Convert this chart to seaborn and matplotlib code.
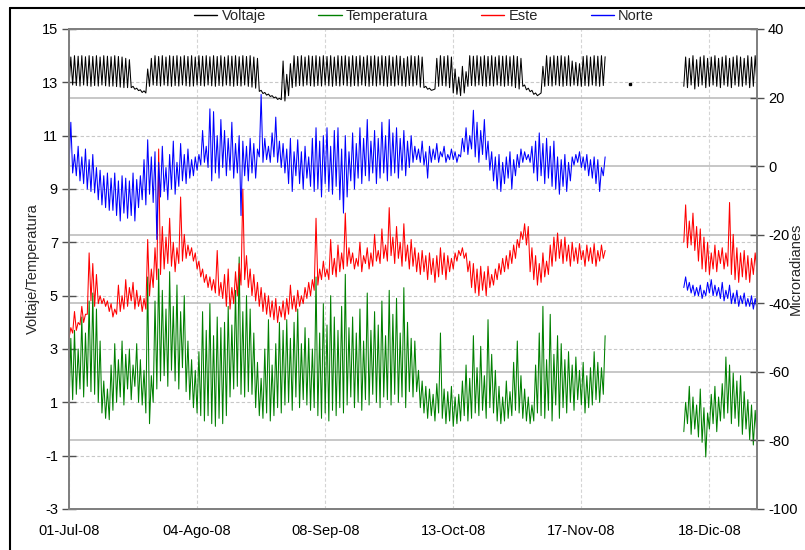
import numpy as np
import pandas as pd
import matplotlib
matplotlib.use("Agg")
import matplotlib.pyplot as plt
import matplotlib.transforms as mtransforms
from matplotlib.lines import Line2D
import seaborn as sns

# ---------------- data ----------------
tick_labels = ["01-Jul-08", "04-Ago-08", "08-Sep-08", "13-Oct-08", "17-Nov-08", "18-Dic-08"]
tick_pos = [0, 35, 70, 105, 140, 175]

days_1 = np.arange(0, 147)      # first recording period (day index)
days_2 = np.arange(168, 189)    # second recording period

volt_hi_1 = [13.95, 14.0, 13.98, 14.0, 13.96, 14.0, 13.97, 14.0, 13.95, 14.0,
             13.98, 13.96, 14.0, 13.97, 13.95, 13.9, 13.85, 12.85, 12.78, 12.72,
             12.68, 13.5, 13.9, 14.0, 13.97, 14.0, 13.95, 14.0, 13.98, 14.0,
             13.96, 14.0, 13.97, 14.0, 13.95, 14.0, 13.98, 14.0, 13.96, 14.0,
             13.97, 14.0, 13.95, 14.0, 13.98, 14.0, 13.96, 14.0, 13.97, 14.0,
             13.95, 13.9, 12.7, 12.62, 12.56, 12.5, 12.45, 12.4, 13.8, 13.3,
             13.7, 14.0, 13.97, 14.0, 13.95, 14.0, 13.98, 14.0, 13.96, 14.0,
             13.97, 14.0, 13.95, 14.0, 13.98, 14.0, 13.96, 14.0, 13.97, 14.0,
             13.95, 14.0, 13.98, 14.0, 13.96, 14.0, 13.97, 14.0, 13.95, 14.0,
             13.98, 13.9, 13.96, 14.0, 13.97, 14.0, 13.95, 12.85, 12.78, 12.72,
             13.9, 14.0, 13.97, 14.0, 13.95, 13.5, 13.2, 13.6, 13.4, 14.0,
             13.98, 14.0, 13.96, 14.0, 13.97, 14.0, 13.95, 14.0, 13.98, 14.0,
             13.96, 14.0, 13.97, 13.9, 12.9, 12.78, 12.7, 12.6, 12.55, 13.6,
             14.0, 13.95, 14.0, 13.98, 14.0, 13.96, 14.0, 13.8, 13.75, 13.7,
             13.97, 14.0, 13.95, 14.0, 13.98, 14.0, 13.96]
volt_lo_1 = [12.85, 12.9, 12.88, 12.86, 12.9, 12.87, 12.85, 12.88, 12.86, 12.9,
             12.87, 12.85, 12.86, 12.84, 12.82, 12.8, 12.8, 12.8, 12.74, 12.69,
             12.62, 12.6, 12.85, 12.9, 12.88, 12.86, 12.9, 12.87, 12.85, 12.88,
             12.86, 12.9, 12.87, 12.85, 12.86, 12.9, 12.88, 12.86, 12.9, 12.87,
             12.85, 12.88, 12.86, 12.9, 12.87, 12.85, 12.88, 12.86, 12.9, 12.85,
             12.82, 12.78, 12.66, 12.58, 12.52, 12.47, 12.42, 12.36, 12.35, 12.3,
             12.5, 12.8, 12.85, 12.88, 12.86, 12.9, 12.87, 12.85, 12.88, 12.86,
             12.9, 12.87, 12.85, 12.88, 12.86, 12.9, 12.87, 12.85, 12.88, 12.86,
             12.9, 12.87, 12.85, 12.88, 12.86, 12.9, 12.87, 12.85, 12.88, 12.86,
             12.9, 12.87, 12.85, 12.88, 12.86, 12.9, 12.82, 12.8, 12.74, 12.7,
             12.75, 12.85, 12.88, 12.86, 12.8, 12.6, 12.55, 12.5, 12.6, 12.85,
             12.88, 12.86, 12.9, 12.87, 12.85, 12.88, 12.86, 12.9, 12.87, 12.85,
             12.88, 12.86, 12.8, 12.75, 12.85, 12.72, 12.65, 12.55, 12.5, 12.6,
             12.85, 12.88, 12.86, 12.9, 12.87, 12.85, 12.88, 12.86, 12.9, 12.87,
             12.85, 12.88, 12.86, 12.9, 12.87, 12.85, 12.88]
volt_hi_2 = [13.95, 13.9, 14.0, 13.85, 13.95, 14.0, 13.9, 13.95, 14.0, 13.9, 13.95,
             14.0, 13.9, 13.95, 14.0, 13.95, 13.9, 14.0, 13.95, 14.0, 13.95]
volt_lo_2 = [12.85, 12.8, 12.9, 12.75, 12.85, 12.9, 12.8, 12.85, 12.9, 12.85, 12.8,
             12.9, 12.85, 12.8, 12.9, 12.85, 12.85, 12.9, 12.8, 12.85, 12.9]
volt_dot_day = [153]
volt_dot_val = [12.95]

temp_hi_1 = [3.4, 3.7, 3.0, 4.2, 3.6, 4.8, 5.1, 4.5, 3.3, 1.8,
             1.5, 2.4, 3.2, 2.6, 3.3, 2.8, 3.0, 2.4, 3.2, 2.6,
             2.2, 5.7, 2.0, 4.8, 6.0, 5.2, 4.5, 5.9, 4.6, 5.4,
             4.4, 5.0, 3.3, 2.6, 2.2, 2.9, 4.4, 3.7, 4.7, 3.5,
             4.2, 3.8, 4.0, 4.6, 3.9, 5.2, 6.45, 4.4, 5.0, 4.5,
             3.6, 2.5, 1.9, 3.0, 4.1, 2.4, 3.2, 4.0, 3.7, 4.1,
             3.4, 4.0, 4.5, 3.2, 3.8, 3.4, 3.0, 5.7, 3.6, 4.7,
             3.9, 5.0, 4.2, 3.7, 4.6, 5.8, 3.8, 4.2, 3.6, 4.5,
             3.3, 5.1, 3.7, 4.4, 3.9, 4.8, 3.5, 5.2, 4.3, 4.9,
             3.6, 5.3, 4.0, 3.4, 3.3, 2.2, 1.8, 1.6, 1.5, 1.3,
             1.7, 3.6, 1.5, 1.4, 1.6, 1.2, 1.3, 1.8, 2.4, 1.9,
             3.5, 2.3, 3.1, 2.0, 4.1, 2.8, 2.2, 1.6, 1.2, 1.8,
             1.4, 2.5, 3.3, 2.0, 1.5, 1.2, 0.9, 2.4, 3.6, 4.6,
             2.6, 4.3, 2.8, 3.5, 3.2, 2.6, 2.9, 2.4, 2.7, 2.2,
             2.5, 2.0, 2.3, 2.9, 2.5, 2.3, 3.5]
temp_lo_1 = [0.8, 1.1, 1.3, 1.5, 1.2, 1.6, 1.4, 1.3, 1.0, 0.6,
             0.4, 0.35, 0.7, 1.0, 1.2, 0.9, 1.5, 1.1, 1.6, 1.0,
             0.9, 0.6, 0.2, 1.0, 1.5, 1.8, 2.0, 1.6, 2.2, 1.8,
             1.5, 2.3, 1.4, 1.1, 0.8, 0.6, 0.5, 0.3, 0.5, 0.2,
             0.1, 0.4, 0.2, 0.5, 1.2, 1.5, 1.6, 1.3, 1.2, 1.4,
             1.3, 0.8, 0.5, 0.4, 0.6, 0.3, 0.5, 0.8, 0.6, 0.9,
             1.0, 0.7, 1.2, 0.8, 1.1, 0.9, 0.7, 0.8, 0.5, 0.4,
             0.6, 0.3, 0.7, 0.5, 0.8, 0.6, 0.9, 1.2, 0.8, 1.0,
             0.7, 1.1, 0.9, 1.3, 1.0, 0.8, 1.2, 1.1, 0.9, 1.3,
             1.0, 1.2, 0.8, 1.4, 1.2, 1.4, 0.8, 0.6, 0.4, 0.5,
             0.3, 0.6, 0.4, 0.2, 0.3, 0.1, 0.2, 0.3, 0.5, 0.3,
             0.4, 0.6, 0.5, 0.7, 0.4, 0.8, 0.6, 0.3, 0.2, 0.3,
             0.4, 0.5, 0.7, 0.6, 0.4, 0.3, 0.2, 0.3, 0.6, 0.5,
             0.4, 0.7, 0.3, 0.9, 0.4, 0.8, 0.6, 1.0, 0.7, 1.1,
             0.9, 0.6, 0.8, 0.9, 1.1, 1.0, 1.3]
temp_hi_2 = [1.0, 1.6, 1.2, 0.9, 1.5, 0.8, 0.6, 1.3, 1.6, 1.2, 1.7,
             2.7, 2.4, 2.1, 1.8, 2.0, 1.4, 1.1, 0.9, 0.7, 1.5]
temp_lo_2 = [-0.1, 0.2, -0.2, 0.0, -0.3, -0.5, -1.05, 0.0, 0.2, -0.1, 0.3,
             0.4, 0.6, 0.2, 0.4, 0.1, -0.2, 0.0, -0.4, -0.6, -0.3]

# Este / Norte in microradians (right axis)
este_hi_1 = [-47.1, -42.4, -45.6, -40.9, -43.2, -25.3, -28.4, -31.6, -37.8, -38.6,
             -39.3, -40.1, -41.7, -34.7, -37.8, -33.1, -35.4, -33.9, -36.2, -37.8,
             -38.6, -21.4, -30.0, -23.8, 5.0, -17.6, -20.7, -15.2, -22.2, -23.8,
             -9.0, -19.9, -23.0, -23.8, -25.3, -27.7, -30.0, -31.6, -32.3, -33.1,
             -24.6, -33.9, -31.6, -30.0, -35.4, -30.8, -28.4, -6.7, -26.1, -30.0,
             -31.6, -33.9, -35.4, -37.0, -37.8, -39.3, -38.6, -40.9, -39.3, -38.6,
             -34.7, -37.8, -36.2, -37.8, -35.4, -33.9, -33.1, -15.2, -30.0, -27.7,
             -30.0, -21.4, -26.9, -23.0, -25.3, -13.7, -23.8, -25.3, -26.9, -22.2,
             -26.1, -23.8, -25.3, -19.9, -24.6, -18.3, -23.0, -12.1, -20.7, -17.6,
             -22.2, -16.8, -23.0, -21.4, -23.8, -25.3, -24.6, -26.1, -25.3, -26.9,
             -26.1, -23.8, -25.3, -26.1, -26.9, -25.3, -24.6, -23.8, -25.3, -27.7,
             -28.4, -30.0, -29.2, -30.8, -29.2, -31.6, -30.0, -28.4, -26.9, -26.1,
             -24.6, -23.0, -21.4, -19.1, -16.8, -17.6, -23.8, -26.1, -28.4, -25.3,
             -27.7, -23.0, -20.7, -19.5, -21.4, -20.7, -23.0, -22.2, -23.8, -22.6,
             -24.6, -23.0, -23.8, -22.6, -24.6, -23.0, -24.6]
este_lo_1 = [-50.2, -48.7, -47.9, -46.3, -45.6, -43.2, -39.3, -40.9, -40.1, -40.1,
             -40.9, -42.4, -44.0, -43.2, -42.4, -41.7, -40.9, -39.3, -41.7, -40.9,
             -42.4, -41.7, -37.8, -35.4, -33.1, -31.6, -30.0, -28.4, -29.2, -30.8,
             -28.4, -27.7, -26.9, -26.1, -27.7, -30.0, -32.3, -33.9, -35.4, -36.2,
             -37.0, -37.8, -38.6, -40.9, -41.7, -40.1, -37.8, -34.7, -33.1, -35.4,
             -37.8, -39.3, -40.9, -42.4, -43.2, -44.0, -44.8, -45.6, -44.0, -44.8,
             -43.2, -41.7, -42.4, -40.9, -40.1, -38.6, -37.8, -36.2, -34.7, -33.1,
             -32.3, -33.1, -31.6, -32.3, -30.8, -30.0, -29.2, -28.4, -30.0, -29.2,
             -30.8, -28.4, -30.0, -29.2, -27.7, -28.4, -26.9, -27.7, -26.1, -28.4,
             -26.9, -29.2, -27.7, -30.0, -29.2, -30.8, -31.6, -30.8, -33.1, -31.6,
             -33.9, -32.3, -31.6, -33.1, -30.8, -30.0, -27.7, -26.1, -26.9, -30.8,
             -35.4, -37.0, -37.8, -36.2, -37.8, -35.4, -34.7, -33.1, -31.6, -30.8,
             -30.0, -28.4, -26.9, -23.8, -21.4, -23.0, -30.8, -33.1, -34.7, -33.9,
             -32.3, -31.6, -29.2, -27.7, -26.9, -28.4, -27.7, -29.2, -27.7, -28.4,
             -27.3, -29.2, -27.7, -28.4, -29.2, -27.7, -26.9]
este_hi_2 = [-11.3, -16.0, -13.7, -17.6, -18.3, -20.7, -22.2, -25.3, -23.0, -24.6, -23.8,
             -25.3, -10.6, -19.9, -23.8, -25.3, -24.6, -26.1, -26.9, -25.3, -23.8]
este_lo_2 = [-22.2, -23.8, -23.0, -24.6, -27.7, -30.0, -30.8, -31.6, -30.0, -30.8, -28.4,
             -30.0, -29.2, -31.6, -33.1, -33.9, -32.3, -33.1, -33.9, -31.6, -30.8]

norte_hi_1 = [12.8, 3.4, 5.8, 2.7, 5.0, 1.9, 3.4, -0.4, -1.2, -2.8,
              -2.0, -3.5, -2.0, -4.3, -2.8, -3.5, -4.3, -2.0, -3.9, -2.8,
              1.9, 7.7, 2.7, 4.2, 1.1, 5.8, -0.4, 3.4, 7.3, 1.1,
              6.6, 3.4, 5.0, 1.9, 2.7, 3.4, 10.4, 5.8, 16.7, 15.9,
              8.9, 13.6, 10.4, 8.1, 12.8, 6.6, 8.9, 7.3, 5.8, 8.1,
              6.6, 5.0, 20.9, 8.1, 5.8, 9.7, 14.3, 7.3, 6.6, 5.0,
              8.1, 4.2, 7.7, 4.2, 5.8, 2.7, 8.1, 11.2, 7.3, 8.9,
              11.2, 5.8, 10.4, 11.2, 5.0, 8.9, 4.2, 9.7, 6.6, 11.2,
              8.1, 13.6, 7.3, 10.4, 8.1, 12.8, 8.9, 13.6, 9.7, 11.2,
              8.1, 10.4, 7.3, 8.9, 5.8, 5.0, 7.3, 4.2, 5.8, 5.0,
              6.6, 4.2, 5.8, 3.4, 5.0, 4.2, 3.4, 8.1, 11.2, 8.9,
              16.3, 12.8, 10.4, 13.6, 7.3, 4.2, 2.7, 3.4, 1.1, 2.7,
              4.2, 1.9, 3.4, 5.0, 4.2, 3.4, 5.8, 7.3, 9.7, 6.6,
              8.1, 5.8, 7.3, 2.7, 1.9, 3.4, 1.1, 2.7, 3.4, 4.2,
              2.7, 3.4, 1.9, 2.7, 1.9, -0.4, 2.7]
norte_lo_1 = [0.3, -2.0, -2.8, -4.3, -5.1, -6.7, -7.4, -7.8, -9.8, -11.3,
              -12.1, -12.9, -12.9, -14.4, -16.0, -13.7, -15.2, -14.4, -16.0, -12.1,
              -9.8, -11.3, -8.2, -10.6, -21.4, -9.0, -7.4, -9.8, -6.7, -8.2,
              -5.9, -4.3, -5.1, -3.5, -2.8, -1.2, 0.3, 1.1, -0.4, -4.3,
              -2.0, -3.5, -0.4, -2.8, -1.2, -3.5, -2.0, -14.4, -2.8, -4.3,
              -2.0, -3.5, 2.7, 1.1, 1.9, 1.1, 2.7, 1.1, -0.4, -2.0,
              -5.1, -7.4, -2.8, -5.1, -6.7, -3.5, -5.9, -7.4, -6.7, -9.0,
              -5.1, -7.4, -8.2, -5.9, -9.8, -13.7, -9.0, -4.3, -6.7, -3.5,
              -5.1, -2.8, -4.3, -2.0, -5.1, -3.5, -2.0, -4.3, -2.8, -2.0,
              -3.5, -1.2, -2.8, -0.4, 1.1, 1.9, 1.1, 0.3, -3.5, 1.1,
              1.9, 1.1, 2.7, 1.1, 1.9, 1.9, 1.1, 2.7, 4.2, 3.4,
              5.0, 2.7, 1.1, 3.4, 1.9, -1.2, -4.3, -6.7, -7.4, -5.1,
              -3.5, -6.7, -2.8, -0.4, 1.1, 1.9, 1.1, -2.0, -4.3, -2.8,
              -5.1, -3.5, -5.9, -6.7, -8.2, -5.9, -7.4, -4.3, 0.3, 1.1,
              -0.4, -1.2, -2.8, -3.5, -5.1, -7.4, -2.8]
norte_hi_2 = [-32.3, -33.9, -34.7, -35.4, -34.7, -36.2, -33.9, -33.1, -34.7, -35.4, -33.9,
              -36.2, -34.7, -37.0, -36.2, -37.8, -37.0, -38.6, -37.8, -38.6, -39.3]
norte_lo_2 = [-35.4, -36.2, -37.0, -37.8, -37.8, -38.6, -37.8, -37.0, -37.8, -37.8, -38.6,
              -39.3, -38.6, -40.1, -40.1, -40.9, -40.1, -40.9, -40.9, -41.7, -41.7]


def zigzag(days, lo, hi):
    d = np.asarray(days, dtype=float)
    x = np.column_stack([d, d + 0.5]).ravel()
    y = np.column_stack([np.asarray(lo), np.asarray(hi)]).ravel()
    return pd.DataFrame({"x": x, "y": y})


# ---------------- style ----------------
sns.set_style("white")
plt.rcParams["font.family"] = ["Liberation Sans Narrow", "Liberation Sans", "DejaVu Sans"]
plt.rcParams["font.size"] = 10
plt.rcParams["axes.unicode_minus"] = False

W, H = 805, 550
fig = plt.figure(figsize=(W / 100, H / 100), dpi=100)
L, R, T, B = 69, 757, 29, 509
ax = fig.add_axes([L / W, 1 - B / H, (R - L) / W, (B - T) / H])
ax2 = ax.twinx()

ax.set_xlim(0, 188)
ax.set_ylim(-3, 15)
ax2.set_ylim(-100, 40)
ax.set_yticks(np.arange(-3, 16, 2))
ax2.set_yticks(np.arange(-100, 41, 20))
ax.set_xticks(tick_pos)
ax.set_xticklabels(tick_labels)

# grids: dashed at left ticks + vertical ticks, solid at right ticks (all drawn under data)
for yv in ax.get_yticks():
    ax.axhline(yv, color="#c8c8c8", lw=0.8, ls=(0, (3, 2)), zorder=0)
for xv in tick_pos:
    ax.axvline(xv, color="#d4d4d4", lw=0.8, ls=(0, (3, 2)), zorder=0)
blend = mtransforms.blended_transform_factory(ax.transAxes, ax2.transData)
for rv in ax2.get_yticks():
    ax.plot([0, 1], [rv, rv], transform=blend, color="#bdbdbd", lw=1.2, zorder=0.5,
            clip_on=False)

lw = 0.75
c_v, c_t, c_e, c_n = "#000000", "#008000", "#ff0000", "#0000ff"
for d, lo, hi in [(days_1, volt_lo_1, volt_hi_1), (days_2, volt_lo_2, volt_hi_2)]:
    df = zigzag(d, lo, hi)
    sns.lineplot(data=df, x="x", y="y", ax=ax, color=c_v, lw=lw, sort=False, estimator=None)
ax.plot(np.array(volt_dot_day) + 0.25, volt_dot_val, "s", color=c_v, ms=1.5)
for d, lo, hi in [(days_1, temp_lo_1, temp_hi_1), (days_2, temp_lo_2, temp_hi_2)]:
    df = zigzag(d, lo, hi)
    sns.lineplot(data=df, x="x", y="y", ax=ax, color=c_t, lw=lw, sort=False, estimator=None)
for d, lo, hi in [(days_1, este_lo_1, este_hi_1), (days_2, este_lo_2, este_hi_2)]:
    df = zigzag(d, lo, hi)
    sns.lineplot(data=df, x="x", y="y", ax=ax2, color=c_e, lw=lw, sort=False, estimator=None)
for d, lo, hi in [(days_1, norte_lo_1, norte_hi_1), (days_2, norte_lo_2, norte_hi_2)]:
    df = zigzag(d, lo, hi)
    sns.lineplot(data=df, x="x", y="y", ax=ax2, color=c_n, lw=lw, sort=False, estimator=None)

ax.set_xlabel("")
ax.set_ylabel("")
ax2.set_ylabel("")

spine_c = "#808080"
for a in (ax, ax2):
    for s in a.spines.values():
        s.set_color(spine_c)
        s.set_linewidth(1.3)
ax.tick_params(axis="both", direction="inout", length=10, width=1, color="#505050",
               labelsize=10.5, labelcolor="black", pad=3)
ax2.tick_params(axis="y", direction="inout", length=10, width=1, color="#505050",
                labelsize=10.5, labelcolor="black", pad=3)
ax.tick_params(axis="x", pad=6)

fig.text(33 / W, 1 - 269 / H, "Voltaje/Temperatura", rotation=90, ha="center",
         va="center", fontsize=10.5)
fig.text(796 / W, 1 - 269 / H, "Microradianes", rotation=90, ha="center",
         va="center", fontsize=10.5)

handles = [Line2D([], [], color=c, lw=1) for c in (c_v, c_t, c_e, c_n)]
fig.legend(handles, ["Voltaje", "Temperatura", "Este", "Norte"], loc="center",
           bbox_to_anchor=(424 / W, 1 - 16 / H), ncol=4, frameon=False,
           handlelength=1.6, handletextpad=0.3, columnspacing=3.6, fontsize=10.5)

# outer frame (only left and top edges visible in the reference)
fig.add_artist(Line2D([10 / W, 10 / W], [0, 1 - 8 / H], transform=fig.transFigure,
                      color="black", lw=1.5))
fig.add_artist(Line2D([10 / W, 1], [1 - 8 / H, 1 - 8 / H], transform=fig.transFigure,
                      color="black", lw=1.5))

fig.savefig("out.png", dpi=100)
